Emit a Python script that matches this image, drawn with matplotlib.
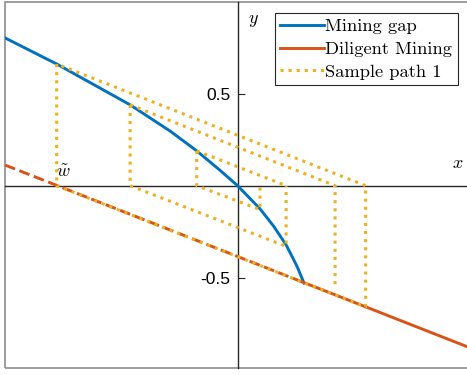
import numpy as np
import matplotlib
matplotlib.use("Agg")
import matplotlib.pyplot as plt
from matplotlib.patches import Rectangle

plt.rcParams["mathtext.fontset"] = "cm"
plt.rcParams["font.family"] = ["Liberation Sans", "DejaVu Sans"]

# colours (matlab defaults)
c_blue = "#0072BD"
c_red = "#D95319"
c_yel = "#EDB120"

# mining gap curve
gap_x = [-1.264, -0.983, -0.785, -0.584, -0.367, -0.222, -0.095, 0.0,
         0.122, 0.195, 0.264, 0.322, 0.361]
gap_y = [0.803, 0.661, 0.551, 0.439, 0.297, 0.189, 0.083, 0.0,
         -0.126, -0.219, -0.322, -0.436, -0.529]

# diligent mining line (dashed part up to the end of the curve, then solid)
dil_dash_x = [-1.264, 0.361]
dil_dash_y = [0.112, -0.527]
dil_x = [0.361, 1.25]
dil_y = [-0.527, -0.876]

# sample path 1, segments split by nan
nan = np.nan
path_x = [-0.983, -0.983, 0.696, 0.696, -0.983, nan,
          -0.584, -0.584, 0.264, 0.264, nan,
          -0.584, 0.53, 0.53, nan,
          -0.222, -0.222, 0.122, 0.122, nan,
          -0.222, 0.264]
path_y = [0.661, 0.0, -0.659, 0.0, 0.661, nan,
          0.439, 0.0, -0.33, 0.0, nan,
          0.439, 0.0, -0.56, nan,
          0.189, 0.0, -0.13, 0.0, nan,
          0.189, 0.0]

yticks = [-0.5, 0.5]
ytick_labels = ["-0.5", "0.5"]

fig = plt.figure(figsize=(4.67, 3.75), dpi=100)
ax = fig.add_axes([5/467, 1-368/375, 462/467, 366/375])
ax.set_xlim(-1.264, 1.247)
ax.set_ylim(-0.991, 0.998)

ax.plot(gap_x, gap_y, color=c_blue, lw=2.1, label="Mining gap", zorder=3)
ax.plot(dil_dash_x, dil_dash_y, color=c_red, lw=2.1, ls="--", zorder=3)
ax.plot(dil_x, dil_y, color=c_red, lw=2.1, label="Diligent Mining", zorder=3)
ax.plot(path_x, path_y, color=c_yel, lw=2.2, ls=":", label="Sample path 1", zorder=4)

# axes through origin
for s in ["right", "top"]:
    ax.spines[s].set_visible(False)
ax.spines["left"].set_position(("data", 0))
ax.spines["bottom"].set_position(("data", 0))
ax.spines["left"].set_color("#262626")
ax.spines["bottom"].set_color("#262626")
ax.spines["left"].set_linewidth(1.0)
ax.spines["bottom"].set_linewidth(1.0)
ax.set_xticks([])
ax.set_yticks(yticks)
ax.set_yticklabels(ytick_labels)
ax.tick_params(axis="y", direction="in", length=5, width=0.8, pad=5,
               labelsize=12.5, color="#262626")

# outer box
ax.add_patch(Rectangle((0, 0), 1.2, 1, transform=ax.transAxes, fill=False,
                       ec="#8c8c8c", lw=1.2, clip_on=False, zorder=1))

ax.text(0.084, 0.90, r"$y$", fontsize=13, ha="center", va="center")
ax.text(1.198, 0.123, r"$x$", fontsize=13, ha="center", va="center")
ax.text(-0.948, 0.069, r"$\tilde{w}$", fontsize=13, ha="center", va="center")

leg = ax.legend(loc="upper right", bbox_to_anchor=(458/467, 1-13/375),
                bbox_transform=fig.transFigure, borderaxespad=0,
                prop={"family": "cmr10", "size": 13.3}, handlelength=2.35,
                handletextpad=0.1, labelspacing=0.36, borderpad=0.3,
                fancybox=False, framealpha=1, edgecolor="#262626")
leg.get_frame().set_linewidth(0.8)

fig.savefig("out.png", dpi=100)
